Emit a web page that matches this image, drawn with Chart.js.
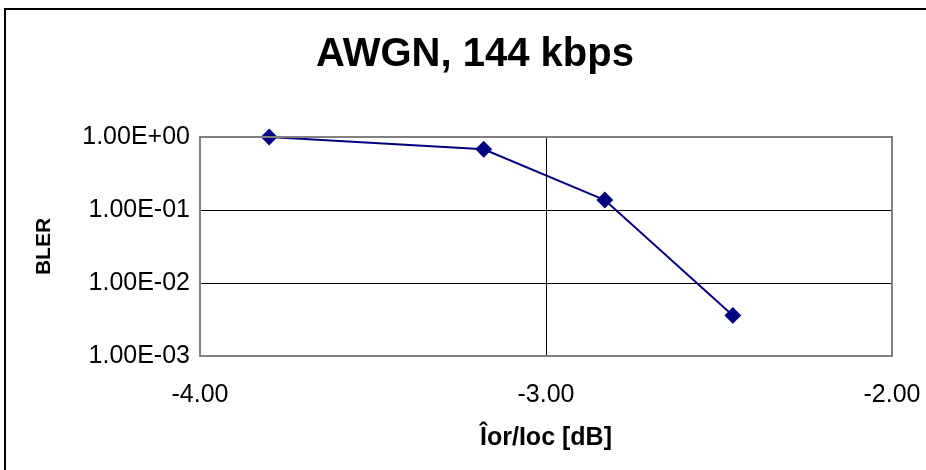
<!DOCTYPE html>
<html>
<head>
<meta charset="utf-8">
<script src="https://cdn.jsdelivr.net/npm/chart.js@4.4.1/dist/chart.umd.min.js"></script>
<style>
  html, body { margin: 0; padding: 0; background: #fff; overflow: hidden; }
  canvas { display: block; }
</style>
</head>
<body>
<canvas id="chart" width="926" height="470"></canvas>
<script>
const ecDb = [-3.80, -3.18, -2.83, -2.46];
const bler = [1.0, 0.68, 0.137, 0.0036];
const yTicks = [0.001, 0.01, 0.1, 1];
const yTickLabels = ['1.00E-03', '1.00E-02', '1.00E-01', '1.00E+00'];
const xTicks = [-4, -3, -2];
const xTickLabels = ['-4.00', '-3.00', '-2.00'];
const chartTitle = 'AWGN, 144 kbps';

const font = 'Liberation Sans, Arial, sans-serif';

// outer frame (top and left edges only show), plot border and the title
const extras = {
  id: 'extras',
  beforeDraw(chart) {
    const ctx = chart.ctx;
    ctx.save();
    ctx.strokeStyle = '#000';
    ctx.lineWidth = 2;
    ctx.beginPath();
    ctx.moveTo(5, 470);
    ctx.lineTo(5, 9);
    ctx.lineTo(926, 9);
    ctx.stroke();
    ctx.restore();
  },
  afterDraw(chart) {
    const { ctx, chartArea: a } = chart;
    ctx.save();
    ctx.strokeStyle = '#808080';
    ctx.lineWidth = 2;
    ctx.strokeRect(a.left, a.top, a.right - a.left, a.bottom - a.top);
    ctx.fillStyle = '#000';
    ctx.font = 'bold 40px ' + font;
    ctx.textAlign = 'center';
    ctx.textBaseline = 'middle';
    ctx.fillText(chartTitle, 475, 55);
    ctx.restore();
  }
};

new Chart(document.getElementById('chart'), {
  type: 'line',
  data: {
    datasets: [{
      label: 'BLER',
      data: ecDb.map((x, i) => ({ x: x, y: bler[i] })),
      borderColor: '#000080',
      backgroundColor: '#000080',
      borderWidth: 2,
      pointStyle: 'rectRot',
      pointRadius: 7,
      pointHoverRadius: 7,
      tension: 0
    }]
  },
  options: {
    responsive: false,
    animation: false,
    clip: false,
    layout: { padding: { left: 0, right: 34, top: 137, bottom: 0 } },
    plugins: {
      legend: { display: false },
      tooltip: { enabled: false },
      title: { display: false }
    },
    scales: {
      x: {
        type: 'linear',
        min: -4,
        max: -2,
        afterBuildTicks: s => { s.ticks = xTicks.map(v => ({ value: v })); },
        afterFit: s => { s.height = 114; s.paddingLeft = 0; s.paddingRight = 0; },
        ticks: {
          color: '#000',
          font: { family: font, size: 25 },
          padding: 24,
          maxRotation: 0,
          callback: v => xTickLabels[xTicks.indexOf(v)]
        },
        grid: {
          drawTicks: false,
          color: c => (c.tick && c.tick.value === -3 ? '#000' : 'rgba(0,0,0,0)'),
          lineWidth: 1
        },
        border: { display: false },
        title: {
          display: true,
          text: 'Îor/Ioc [dB]',
          color: '#000',
          font: { family: font, size: 25, weight: 'bold', lineHeight: 1.2 },
          padding: { top: 0, bottom: 17 }
        }
      },
      y: {
        type: 'logarithmic',
        min: 0.001,
        max: 1,
        afterBuildTicks: s => { s.ticks = yTicks.map(v => ({ value: v })); },
        afterFit: s => { s.width = 200; s.paddingTop = 0; s.paddingBottom = 0; },
        ticks: {
          color: '#000',
          font: { family: font, size: 25 },
          padding: 10,
          callback: v => yTickLabels[yTicks.indexOf(v)]
        },
        grid: {
          drawTicks: false,
          color: '#000',
          lineWidth: 1
        },
        border: { display: false },
        title: {
          display: true,
          text: 'BLER',
          color: '#000',
          font: { family: font, size: 21, weight: 'bold', lineHeight: 1.2 },
          padding: { top: 32, bottom: 0 }
        }
      }
    }
  },
  plugins: [extras]
});
</script>
</body>
</html>
